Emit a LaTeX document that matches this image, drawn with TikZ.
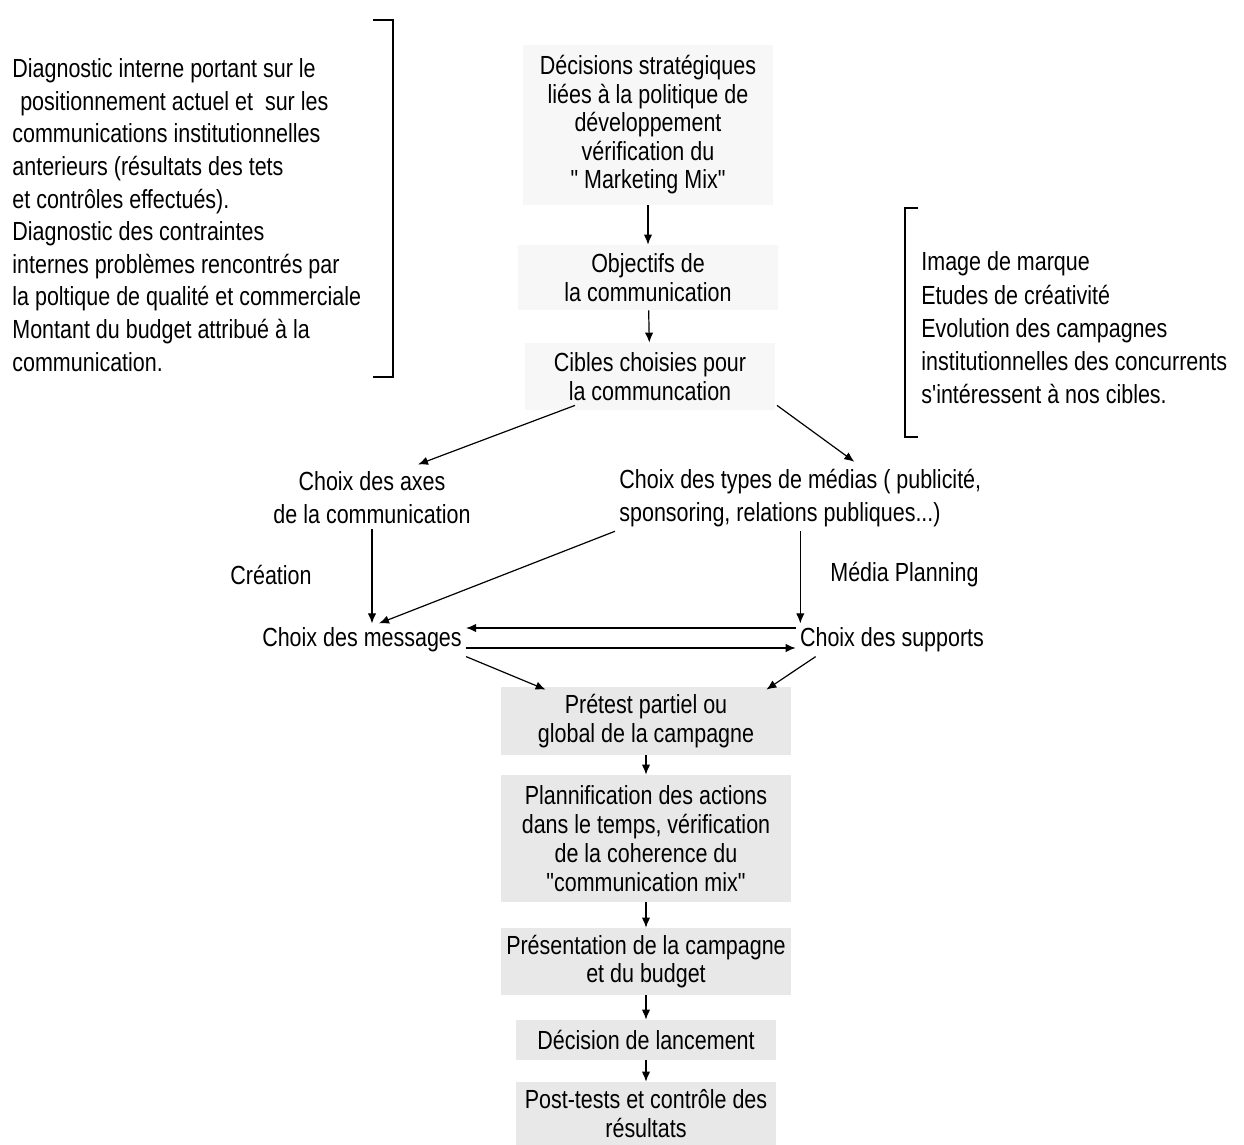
\documentclass[tikz,border=0pt]{standalone}
\usepackage{fontspec}
\setmainfont{Liberation Sans}[FakeStretch=0.82, Ligatures=TeXOff]
\usetikzlibrary{arrows.meta,calc}
\begin{document}
\begin{tikzpicture}[x=0.5pt,y=-0.5pt,
  every node/.style={font=\fontsize{13.1}{14.3}\selectfont, inner sep=2pt},
  note/.style={align=left, font=\fontsize{13.1}{16.3}\selectfont, inner sep=0pt, anchor=west},
  lab/.style={align=center, font=\fontsize{13.1}{16.5}\selectfont},
  upbox/.style={align=center, fill=gray!6, minimum width=125pt, font=\fontsize{13.1}{14.25}\selectfont},
  lowbox/.style={align=center, fill=gray!18, minimum width=145pt, font=\fontsize{13.1}{14.4}\selectfont},
  arr/.style={-{Latex[length=5pt,width=4.2pt]}, line width=0.6pt},
  brk/.style={line width=0.6pt}]
\fill[white] (0,0) rectangle (1244,1145);
\useasboundingbox (0,0) rectangle (1244,1145);

% side notes
\node[note] (diag) at (12,215) {Diagnostic interne portant sur le\\
\hspace*{0.3em}positionnement actuel et\ \ sur les\\
communications institutionnelles\\
anterieurs (résultats des tets\\
et contrôles effectués).\\
Diagnostic des contraintes\\
internes problèmes rencontrés par\\
la poltique de qualité et commerciale\\
Montant du budget attribué à la\\
communication.};
\node[note, font=\fontsize{13.1}{16.6}\selectfont] (img) at (921,328) {Image de marque\\
Etudes de créativité\\
Evolution des campagnes\\
institutionnelles des concurrents\\
s'intéressent à nos cibles.};

\draw[brk] (373,20) -- (393,20) -- (393,377) -- (373,377);
\draw[brk] (918,208) -- (905,208) -- (905,437) -- (918,437);

% upper column
\node[upbox, minimum height=80pt] (dec) at (648,125) {Décisions stratégiques\\liées à la politique de\\développement\\vérification du\\" Marketing Mix"};
\node[upbox, minimum height=32.5pt, minimum width=130pt] (obj) at (648,277.5) {Objectifs de\\la communication};
\node[upbox, minimum height=33.5pt] (cib) at (650,376.5) {Cibles choisies pour\\la communcation};

% middle
\node[lab] (axes) at (372,498) {Choix des axes\\de la communication};
\node[note, font=\fontsize{13.1}{16.5}\selectfont, inner sep=2pt] (types) at (615,498) {Choix des types de médias ( publicité,\\sponsoring, relations publiques...)};
\node (crea) at (271,575) {Création};
\node[anchor=west] (mp) at (826,575) {Média Planning};
\node (msg) at (362,640) {Choix des messages};
\node (sup) at (892,640) {Choix des supports};

% lower column
\node[lowbox, minimum height=34pt] (pre) at (646,721) {Prétest partiel ou\\global de la campagne};
\node[lowbox, minimum height=63.5pt] (plan) at (646,838.5) {Plannification des actions\\dans le temps, vérification\\de la coherence du\\"communication mix"};
\node[lowbox, minimum height=33.5pt] (pres) at (646,961.5) {Présentation de la campagne\\et du budget};
\node[lowbox, minimum height=20pt, minimum width=130pt] (decl) at (646,1040) {Décision de lancement};
\node[lowbox, minimum height=31.5pt, minimum width=130pt] (post) at (646,1113.5) {Post-tests et contrôle des\\résultats};

% connectors
\draw[arr] (dec) -- (obj);
\draw[arr] (obj) -- (cib);
\draw[arr] ($(cib.south)+(-75,-5)$) -- ($(axes.north)+(46,-3)$);
\draw[arr] ($(cib.south)+(127,-5)$) -- ($(types.north)+(54,-3)$);
\draw[arr] (axes.south) -- (axes.south |- msg.north);
\draw[arr] (types.south) -- (types.south |- sup.north);
\draw[arr] (types.south west) -- ($(msg.north)+(17,0)$);
\draw[arr] ([yshift=6pt]sup.west) -- ([yshift=6pt]msg.east);
\draw[arr] ([yshift=-4pt]msg.east) -- ([yshift=-4pt]sup.west);
\draw[arr] (msg.south east) -- ($(pre.north west)+(45,3)$);
\draw[arr] ($(sup.south west)+(20,0)$) -- ($(pre.north east)+(-25,3)$);
\draw[arr] (pre) -- (plan);
\draw[arr] (plan) -- (pres);
\draw[arr] (pres) -- (decl);
\draw[arr] (decl) -- (post);
\end{tikzpicture}
\end{document}
